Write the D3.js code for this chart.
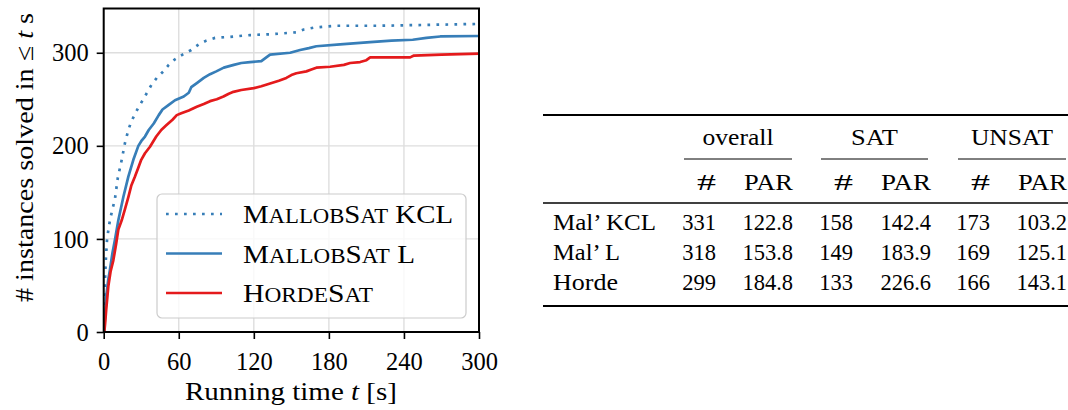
<!DOCTYPE html>
<html>
<head>
<meta charset="utf-8">
<script src="https://cdn.jsdelivr.net/npm/d3@7/dist/d3.min.js"></script>
<style>
  html, body { margin: 0; padding: 0; background: #fff; }
  svg { display: block; }
  text { font-family: "Liberation Serif", "DejaVu Serif", serif; fill: #000; }
</style>
</head>
<body>
<svg id="chart" width="1068" height="410"></svg>
<script>
// Cumulative solved instances over time: [seconds, instances]
const mallobKCL = [[0.2,0],[0.6,30],[1,55],[1.8,80],[2.7,100],[4,112],[5,120],[7,132],[9,143],[11.2,165],[14.4,185],[17,203],[19.7,217],[22,226],[25,234],[28,242],[31.7,250],[35,258],[38.4,266],[43,274],[47.7,280],[52,287],[57,293],[63,298],[70,303],[76,309],[82,313],[89,316],[100,317],[117,319],[135,320],[154,322],[160,325],[168,327],[176,328],[186,329],[220,329],[260,330],[300,331]];
const mallobL = [[0.3,0],[1,15],[2,38],[3.5,55],[5,67],[7,85],[9,99],[11.7,120],[15.7,145],[19.7,167],[23.7,185],[27.7,200],[30,205],[33,210],[36,217],[40,224],[44,233],[47,239],[52,244],[57,249],[64,253],[68,257],[70,263],[75,268],[80,273],[85,277],[90,280],[96,284],[104,287],[110,289],[117,290],[126,291],[130,295],[133,298],[149,300],[157,303],[164,305],[170,307],[189,309],[213,311.5],[230,313],[247,314],[258,316],[269,317.5],[300,318]];
const hordeSat = [[0.5,0],[1.2,10],[2,24],[3.7,49],[5.5,65],[7.7,77],[10,95],[11.7,110],[14.4,120],[17,132],[19.7,145],[22,157],[25,167],[27.5,176],[30,185],[33,192],[37,199],[42,210],[46,217],[50,222],[55,228],[58.4,233],[62,235],[68,238],[74.4,242],[80,245],[85,248],[90.4,250],[95.7,253],[100,256],[103.7,258],[110,260],[120,262],[126,264],[133,267],[140,270],[146,273],[150,276],[154,278],[162,280],[166,282],[170,284],[181,285],[192,287],[197,289],[205,290],[210,292],[213,295],[245,295],[248,297],[270,298],[300,299]];

const xTicks = [0, 60, 120, 180, 240, 300];
const yTicks = [0, 100, 200, 300];

// Legend entries: pieces drawn as full caps ("big") or small caps ("sc")
const seriesNames = [
  [["M","big"],["ALLOB","sc"],["S","big"],["AT","sc"],[" KCL","big"]],
  [["M","big"],["ALLOB","sc"],["S","big"],["AT","sc"],[" L","big"]],
  [["H","big"],["ORDE","sc"],["S","big"],["AT","sc"]]
];
const seriesColors = ["#377eb8", "#377eb8", "#e41a1c"];
const seriesDash = ["2.7,6.3", null, null];
const seriesData = [mallobKCL, mallobL, hordeSat];

// Summary table
const groupLabels = ["overall", "SAT", "UNSAT"];
const colLabels = ["#", "PAR", "#", "PAR", "#", "PAR"];
const solverNames = ["Mal\u2019 KCL", "Mal\u2019 L", "Horde"];
const overallCount = [331, 318, 299];
const overallPAR = ["122.8", "153.8", "184.8"];
const satCount = [158, 149, 133];
const satPAR = ["142.4", "183.9", "226.6"];
const unsatCount = [173, 169, 166];
const unsatPAR = ["103.2", "125.1", "143.1"];

const svg = d3.select("#chart");

// widen a label to a set run length by stretching the glyphs
function fitWidth(sel, w) {
  return sel.attr("textLength", w).attr("lengthAdjust", "spacingAndGlyphs");
}

// ---- plot ----
const pLeft = 103.7, pRight = 479, pTop = 8.5, pBottom = 332;
const x = d3.scaleLinear().domain([0, 300]).range([pLeft, pRight]);
const y = d3.scaleLinear().domain([0, 347.55]).range([pBottom, pTop]);

const grid = svg.append("g");
grid.selectAll("line.vx").data(xTicks).join("line").attr("class", "vx")
  .attr("x1", d => x(d)).attr("x2", d => x(d)).attr("y1", pTop).attr("y2", pBottom)
  .attr("stroke", "#dedede").attr("stroke-width", 1.4);
grid.selectAll("line.hy").data(yTicks).join("line").attr("class", "hy")
  .attr("y1", d => y(d)).attr("y2", d => y(d)).attr("x1", pLeft).attr("x2", pRight)
  .attr("stroke", "#dedede").attr("stroke-width", 1.4);

const line = d3.line().x(d => x(d[0])).y(d => y(d[1]));
const plotG = svg.append("g");
plotG.append("defs").append("clipPath").attr("id", "clip")
  .append("rect").attr("x", pLeft).attr("y", pTop).attr("width", pRight - pLeft).attr("height", pBottom - pTop);
seriesData.forEach((data, i) => {
  plotG.append("path").datum(data)
    .attr("d", line)
    .attr("fill", "none")
    .attr("stroke", seriesColors[i])
    .attr("stroke-width", 2.7)
    .attr("stroke-linejoin", "round")
    .attr("stroke-dasharray", seriesDash[i])
    .attr("clip-path", "url(#clip)");
});

// axes
const xAxis = d3.axisBottom(x).tickValues(xTicks).tickSize(7).tickPadding(6).tickFormat(d3.format("d"));
const yAxis = d3.axisLeft(y).tickValues(yTicks).tickSize(7).tickPadding(8).tickFormat(d3.format("d"));
const gx = svg.append("g").attr("transform", `translate(0,${pBottom})`).call(xAxis);
const gy = svg.append("g").attr("transform", `translate(${pLeft},0)`).call(yAxis);
[gx, gy].forEach(g => {
  g.select(".domain").remove();
  g.selectAll(".tick line").attr("stroke", "#000").attr("stroke-width", 1.6);
  g.selectAll(".tick text").attr("font-size", 24.5).attr("fill", "#000");
});
gx.selectAll(".tick text").attr("dy", null).attr("y", 38);
gy.selectAll(".tick text").attr("dy", "0.33em");

// frame
svg.append("rect").attr("x", pLeft).attr("y", pTop).attr("width", pRight - pLeft).attr("height", pBottom - pTop)
  .attr("fill", "none").attr("stroke", "#000").attr("stroke-width", 2);

// axis labels
const xl = svg.append("text").attr("x", 185).attr("y", 400).attr("font-size", 25);
xl.append("tspan").text("Running time ");
xl.append("tspan").attr("font-style", "italic").text("t");
xl.append("tspan").text(" [s]");
fitWidth(xl, 212);

const yl = svg.append("text").attr("transform", "translate(33,302) rotate(-90)").attr("font-size", 25);
yl.append("tspan").text("# instances solved in \u2264 ");
yl.append("tspan").attr("font-style", "italic").text("t");
yl.append("tspan").text(" s");
fitWidth(yl, 289);

// legend
const legendWidths = [210, 172, 130];
const lg = svg.append("g");
lg.append("rect").attr("x", 157).attr("y", 194).attr("width", 309).attr("height", 124).attr("rx", 5)
  .attr("fill", "#fff").attr("fill-opacity", 0.8).attr("stroke", "#cccccc").attr("stroke-width", 1.2);
seriesNames.forEach((parts, i) => {
  const yy = 214 + i * 39.5;
  lg.append("line").attr("x1", 166).attr("x2", 222).attr("y1", yy).attr("y2", yy)
    .attr("stroke", seriesColors[i]).attr("stroke-width", 2.7).attr("stroke-dasharray", seriesDash[i]);
  const t = lg.append("text").attr("x", 243).attr("y", yy + 9).attr("font-size", 26);
  parts.forEach(([s, kind]) => {
    t.append("tspan").attr("font-size", kind === "sc" ? 20.5 : 26).text(s);
  });
  fitWidth(t, legendWidths[i]);
});

// ---- table ----
const tLeft = 543, tRight = 1068;
const colRight = [716, 793, 853, 931, 990, 1067];
const groupSpan = [[684, 792], [821, 928], [958, 1066]];
const groupWidths = [71, 47, 82];
const nameWidths = [103, 67, 65];
const colWidths = [19, 49, 19, 50, 19, 49];
const tg = svg.append("g");
tg.append("line").attr("x1", tLeft).attr("x2", tRight).attr("y1", 115).attr("y2", 115).attr("stroke", "#000").attr("stroke-width", 2);
tg.append("line").attr("x1", tLeft).attr("x2", tRight).attr("y1", 203).attr("y2", 203).attr("stroke", "#000").attr("stroke-width", 1.3);
tg.append("line").attr("x1", tLeft).attr("x2", tRight).attr("y1", 306).attr("y2", 306).attr("stroke", "#000").attr("stroke-width", 2);
groupLabels.forEach((g, i) => {
  const [a, b] = groupSpan[i];
  tg.append("line").attr("x1", a).attr("x2", b).attr("y1", 159).attr("y2", 159).attr("stroke", "#000").attr("stroke-width", 1);
  const t = tg.append("text").attr("x", (a + b) / 2 - groupWidths[i] / 2).attr("y", 145).attr("font-size", 23).text(g);
  fitWidth(t, groupWidths[i]);
});
colLabels.forEach((c, i) => {
  const t = tg.append("text").attr("x", colRight[i] - colWidths[i]).attr("y", 190).attr("font-size", 23).text(c);
  fitWidth(t, colWidths[i]);
});
const columns = [overallCount, overallPAR, satCount, satPAR, unsatCount, unsatPAR];
solverNames.forEach((name, r) => {
  const yy = 230 + r * 30;
  fitWidth(tg.append("text").attr("x", 553).attr("y", yy).attr("font-size", 23).text(name), nameWidths[r]);
  columns.forEach((col, c) => {
    tg.append("text").attr("x", colRight[c]).attr("y", yy).attr("text-anchor", "end").attr("font-size", 22.5).text(col[r]);
  });
});
</script>
</body>
</html>
